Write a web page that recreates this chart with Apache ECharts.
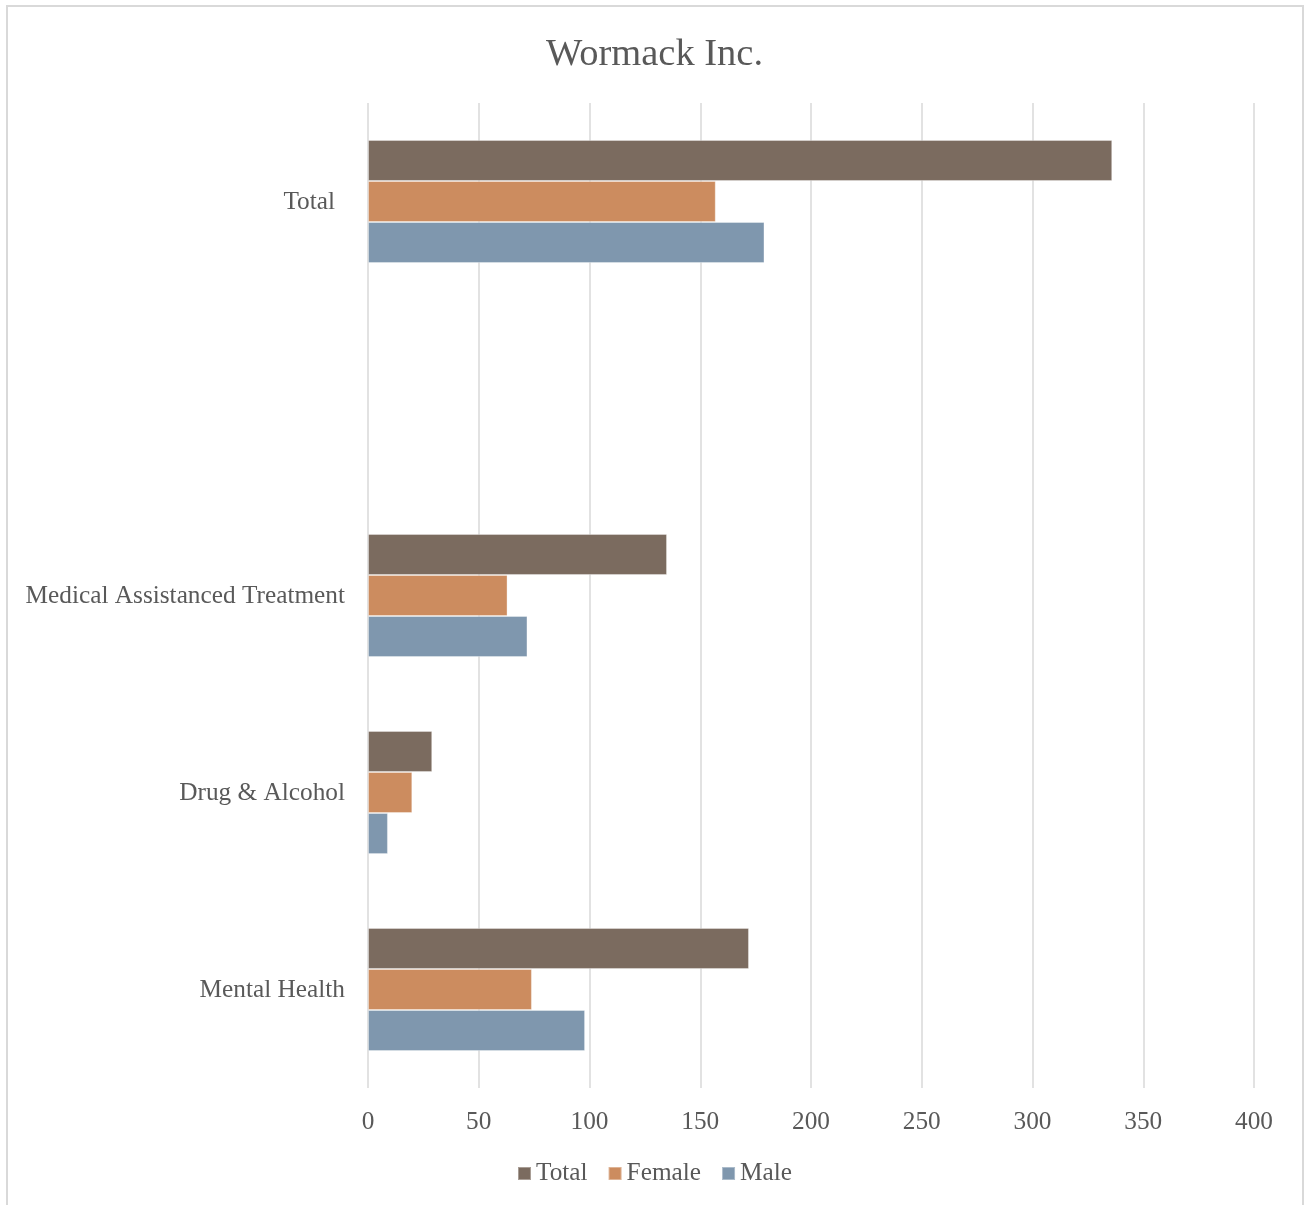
<!DOCTYPE html>
<html>
<head>
<meta charset="utf-8">
<script src="https://cdn.jsdelivr.net/npm/echarts@6/dist/echarts.min.js"></script>
<style>
html,body{margin:0;padding:0;background:#fff;}
#chart{width:1309px;height:1205px;}
</style>
</head>
<body>
<div id="chart"></div>
<script>
const categories = ['Mental Health', 'Drug & Alcohol', 'Medical Assistanced Treatment', '', 'Total'];
const seriesNames = ['Total', 'Female', 'Male'];
const totalValues = [172, 29, 135, null, 336];
const femaleValues = [74, 20, 63, null, 157];
const maleValues = [98, 9, 72, null, 179];
const xTicks = { min: 0, max: 400, interval: 50 };

const colors = ['#7b6b5f', '#cc8c5f', '#7f97ae'];
const FONT = '"Liberation Serif", "DejaVu Serif", serif';
const TXT = '#595959';
const FS = 25.3;

const chart = echarts.init(document.getElementById('chart'));
const values = [totalValues, femaleValues, maleValues];

chart.setOption({
  animation: false,
  backgroundColor: '#fff',
  title: {
    text: 'Wormack Inc.',
    left: 'center',
    top: 30,
    textStyle: { fontFamily: FONT, fontSize: 38.5, fontWeight: 'normal', color: TXT }
  },
  legend: {
    data: seriesNames,
    bottom: 14,
    left: 'center',
    itemWidth: 13,
    itemHeight: 13,
    itemGap: 20,
    icon: 'rect',
    textStyle: { fontFamily: FONT, fontSize: FS, color: TXT }
  },
  grid: { left: 368, right: 55, top: 103, bottom: 117 },
  xAxis: {
    type: 'value',
    min: xTicks.min,
    max: xTicks.max,
    interval: xTicks.interval,
    axisLine: { show: false },
    axisTick: { show: false },
    splitLine: { show: true, lineStyle: { color: '#d9d9d9', width: 1.5 } },
    axisLabel: { fontFamily: FONT, fontSize: FS, color: TXT, margin: 22 }
  },
  yAxis: {
    type: 'category',
    data: categories,
    axisLine: { show: false },
    axisTick: { show: false },
    splitLine: { show: false },
    axisLabel: {
      fontFamily: FONT, fontSize: FS, color: TXT, margin: 23,
      padding: [2, 0, 0, 0],
      formatter: function (v) { return v === 'Total' ? '{t|' + v + '}' : v; },
      rich: { t: { fontFamily: FONT, fontSize: FS, color: TXT, padding: [0, 10, 0, 0] } }
    }
  },
  graphic: [{
    type: 'rect',
    silent: true,
    shape: { x: 7, y: 6, width: 1296, height: 1230 },
    style: { fill: 'none', stroke: '#d9d9d9', lineWidth: 2 }
  }],
  series: seriesNames.map((name, i) => ({
    name: name,
    type: 'bar',
    data: values[i],
    barGap: '0%',
    barCategoryGap: '37.5%',
    itemStyle: { color: colors[i], borderColor: 'rgba(255,255,255,0.35)', borderWidth: 1 }
  }))
});
</script>
</body>
</html>
